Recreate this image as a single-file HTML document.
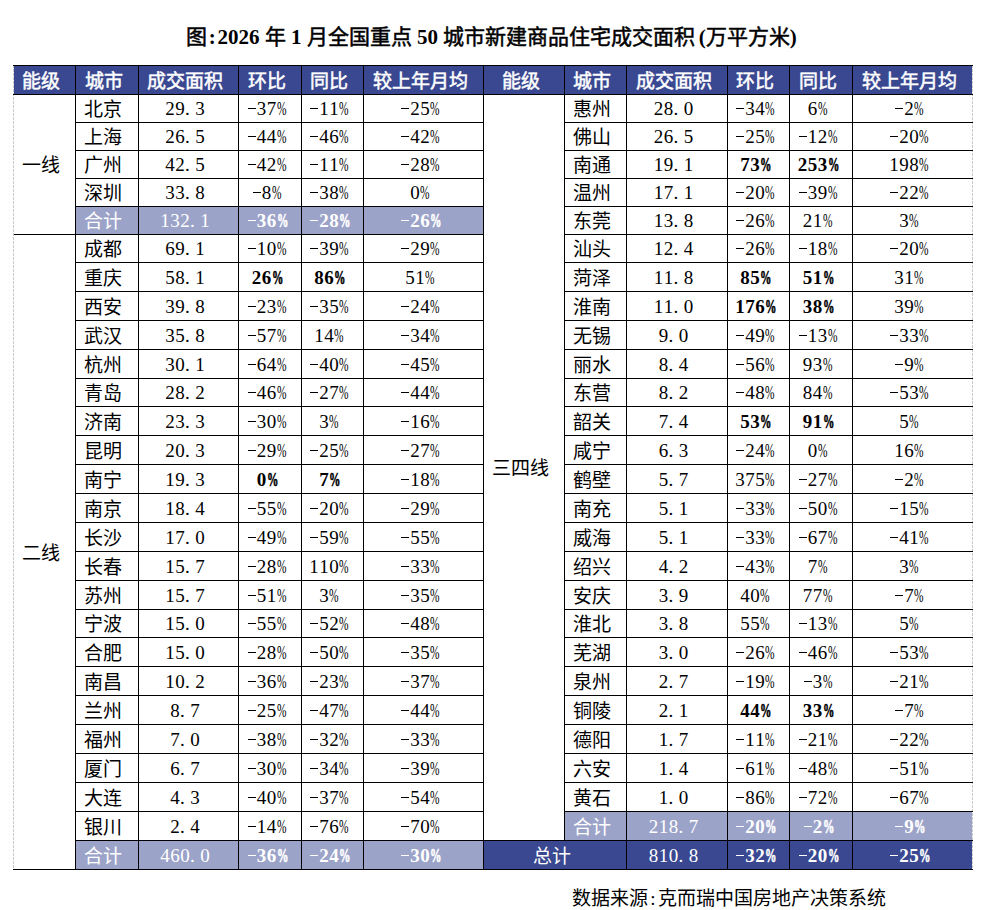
<!DOCTYPE html>
<html lang="zh-CN"><head><meta charset="utf-8">
<style>
html,body{margin:0;padding:0;background:#fff;}
body{width:999px;height:910px;position:relative;overflow:hidden;font-family:"Liberation Serif",serif;color:#000;}
body>div{position:absolute;}
.t{white-space:nowrap;text-align:center;}
.t.l{text-align:left;text-indent:9px;}
.hd{color:#fff;font-weight:normal;font-size:19px;-webkit-text-stroke:0.5px #fff;}
.cn{font-size:19px;}
.nm{font-size:19px;}
.w{color:#fff;}
.b{font-weight:bold;}
.c{display:inline-block;width:10px;text-align:center;}
.c.dl{text-align:left;}
.pc{display:inline-block;width:10px;transform:scaleX(.6);transform-origin:0 0;}
.b .pc{-webkit-text-stroke:0.6px currentColor;}
.mi{display:inline-block;width:10px;height:10px;position:relative;}
.mi:after{content:"";position:absolute;left:1px;width:8px;top:3px;height:1px;background:currentColor;}

.dash{width:1px;background:repeating-linear-gradient(to bottom,#cacaca 0,#cacaca 3px,transparent 3px,transparent 4px);}
.title{left:186px;top:22px;white-space:nowrap;font-size:21px;font-weight:normal;line-height:30px;-webkit-text-stroke:0.5px #000;}
.title .h{font-weight:bold;-webkit-text-stroke:0;}
.title .h{display:inline-block;width:10.5px;text-align:center;font-weight:bold;-webkit-text-stroke:0;}
.foot{left:572px;top:884px;font-size:19px;line-height:30px;white-space:nowrap;}
.foot .h{display:inline-block;width:10px;text-align:center;}
</style></head><body>
<div class="title">图<span class="h">:</span><span class="h">2</span><span class="h">0</span><span class="h">2</span><span class="h">6</span> 年 <span class="h">1</span> 月全国重点 <span class="h">5</span><span class="h">0</span> 城市新建商品住宅成交面积<span class="h" style="text-align:right">(</span>万平方米<span class="h" style="text-align:left">)</span></div>
<div style="left:14px;top:65px;width:958px;height:29px;background:#3a4891;"></div>
<div style="left:75px;top:206px;width:408px;height:28px;background:#9ca3c9;"></div>
<div style="left:75px;top:840px;width:408px;height:29px;background:#9ca3c9;"></div>
<div style="left:564px;top:811px;width:408px;height:29px;background:#9ca3c9;"></div>
<div style="left:483px;top:840px;width:489px;height:29px;background:#3a4891;"></div>
<div class="dash" style="left:13px;top:65px;height:804px"></div>
<div class="dash" style="left:972px;top:65px;height:804px"></div>
<div style="left:13px;top:65px;width:960px;height:1px;background:#000;"></div>
<div style="left:13px;top:94px;width:960px;height:1px;background:#000;"></div>
<div style="left:75px;top:122px;width:409px;height:1px;background:#000;"></div>
<div style="left:75px;top:150px;width:409px;height:1px;background:#000;"></div>
<div style="left:75px;top:178px;width:409px;height:1px;background:#000;"></div>
<div style="left:75px;top:206px;width:409px;height:1px;background:#000;"></div>
<div style="left:75px;top:234px;width:409px;height:1px;background:#000;"></div>
<div style="left:75px;top:262px;width:409px;height:1px;background:#000;"></div>
<div style="left:75px;top:291px;width:409px;height:1px;background:#000;"></div>
<div style="left:75px;top:320px;width:409px;height:1px;background:#000;"></div>
<div style="left:75px;top:349px;width:409px;height:1px;background:#000;"></div>
<div style="left:75px;top:378px;width:409px;height:1px;background:#000;"></div>
<div style="left:75px;top:406px;width:409px;height:1px;background:#000;"></div>
<div style="left:75px;top:435px;width:409px;height:1px;background:#000;"></div>
<div style="left:75px;top:464px;width:409px;height:1px;background:#000;"></div>
<div style="left:75px;top:493px;width:409px;height:1px;background:#000;"></div>
<div style="left:75px;top:522px;width:409px;height:1px;background:#000;"></div>
<div style="left:75px;top:551px;width:409px;height:1px;background:#000;"></div>
<div style="left:75px;top:580px;width:409px;height:1px;background:#000;"></div>
<div style="left:75px;top:609px;width:409px;height:1px;background:#000;"></div>
<div style="left:75px;top:637px;width:409px;height:1px;background:#000;"></div>
<div style="left:75px;top:666px;width:409px;height:1px;background:#000;"></div>
<div style="left:75px;top:695px;width:409px;height:1px;background:#000;"></div>
<div style="left:75px;top:724px;width:409px;height:1px;background:#000;"></div>
<div style="left:75px;top:753px;width:409px;height:1px;background:#000;"></div>
<div style="left:75px;top:782px;width:409px;height:1px;background:#000;"></div>
<div style="left:75px;top:811px;width:409px;height:1px;background:#000;"></div>
<div style="left:75px;top:840px;width:409px;height:1px;background:#000;"></div>
<div style="left:14px;top:234px;width:62px;height:1px;background:#000;"></div>
<div style="left:564px;top:122px;width:409px;height:1px;background:#000;"></div>
<div style="left:564px;top:150px;width:409px;height:1px;background:#000;"></div>
<div style="left:564px;top:178px;width:409px;height:1px;background:#000;"></div>
<div style="left:564px;top:206px;width:409px;height:1px;background:#000;"></div>
<div style="left:564px;top:234px;width:409px;height:1px;background:#000;"></div>
<div style="left:564px;top:262px;width:409px;height:1px;background:#000;"></div>
<div style="left:564px;top:291px;width:409px;height:1px;background:#000;"></div>
<div style="left:564px;top:320px;width:409px;height:1px;background:#000;"></div>
<div style="left:564px;top:349px;width:409px;height:1px;background:#000;"></div>
<div style="left:564px;top:378px;width:409px;height:1px;background:#000;"></div>
<div style="left:564px;top:406px;width:409px;height:1px;background:#000;"></div>
<div style="left:564px;top:435px;width:409px;height:1px;background:#000;"></div>
<div style="left:564px;top:464px;width:409px;height:1px;background:#000;"></div>
<div style="left:564px;top:493px;width:409px;height:1px;background:#000;"></div>
<div style="left:564px;top:522px;width:409px;height:1px;background:#000;"></div>
<div style="left:564px;top:551px;width:409px;height:1px;background:#000;"></div>
<div style="left:564px;top:580px;width:409px;height:1px;background:#000;"></div>
<div style="left:564px;top:609px;width:409px;height:1px;background:#000;"></div>
<div style="left:564px;top:637px;width:409px;height:1px;background:#000;"></div>
<div style="left:564px;top:666px;width:409px;height:1px;background:#000;"></div>
<div style="left:564px;top:695px;width:409px;height:1px;background:#000;"></div>
<div style="left:564px;top:724px;width:409px;height:1px;background:#000;"></div>
<div style="left:564px;top:753px;width:409px;height:1px;background:#000;"></div>
<div style="left:564px;top:782px;width:409px;height:1px;background:#000;"></div>
<div style="left:564px;top:811px;width:409px;height:1px;background:#000;"></div>
<div style="left:483px;top:840px;width:490px;height:1px;background:#000;"></div>
<div style="left:13px;top:869px;width:960px;height:1px;background:#000;"></div>
<div style="left:75px;top:65px;width:1px;height:805px;background:#000;"></div>
<div style="left:138px;top:65px;width:1px;height:805px;background:#000;"></div>
<div style="left:238px;top:65px;width:1px;height:805px;background:#000;"></div>
<div style="left:301px;top:65px;width:1px;height:805px;background:#000;"></div>
<div style="left:363px;top:65px;width:1px;height:805px;background:#000;"></div>
<div style="left:483px;top:65px;width:1px;height:805px;background:#000;"></div>
<div style="left:626px;top:65px;width:1px;height:805px;background:#000;"></div>
<div style="left:727px;top:65px;width:1px;height:805px;background:#000;"></div>
<div style="left:789px;top:65px;width:1px;height:805px;background:#000;"></div>
<div style="left:852px;top:65px;width:1px;height:805px;background:#000;"></div>
<div style="left:564px;top:65px;width:1px;height:776px;background:#000;"></div>
<div class="t hd c" style="left:10px;top:67px;width:62px;height:29px;line-height:29px">能级</div>
<div class="t hd c" style="left:72px;top:67px;width:63px;height:29px;line-height:29px">城市</div>
<div class="t hd c" style="left:135px;top:67px;width:100px;height:29px;line-height:29px">成交面积</div>
<div class="t hd c" style="left:235px;top:67px;width:63px;height:29px;line-height:29px">环比</div>
<div class="t hd c" style="left:298px;top:67px;width:62px;height:29px;line-height:29px">同比</div>
<div class="t hd c" style="left:360px;top:67px;width:120px;height:29px;line-height:29px">较上年月均</div>
<div class="t hd c" style="left:480px;top:67px;width:81px;height:29px;line-height:29px">能级</div>
<div class="t hd c" style="left:561px;top:67px;width:62px;height:29px;line-height:29px">城市</div>
<div class="t hd c" style="left:623px;top:67px;width:101px;height:29px;line-height:29px">成交面积</div>
<div class="t hd c" style="left:724px;top:67px;width:62px;height:29px;line-height:29px">环比</div>
<div class="t hd c" style="left:786px;top:67px;width:63px;height:29px;line-height:29px">同比</div>
<div class="t hd c" style="left:849px;top:67px;width:120px;height:29px;line-height:29px">较上年月均</div>
<div class="t cn c" style="left:10px;top:96px;width:62px;height:140px;line-height:140px">一线</div>
<div class="t cn c" style="left:10px;top:236px;width:62px;height:635px;line-height:635px">二线</div>
<div class="t cn c" style="left:480px;top:96px;width:81px;height:746px;line-height:746px">三四线</div>
<div class="t cn  l" style="left:75px;top:96px;width:63px;height:28px;line-height:28px">北京</div>
<div class="t nm  c" style="left:135px;top:95px;width:100px;height:28px;line-height:28px"><span class="c">2</span><span class="c">9</span><span class="c dl">.</span><span class="c">3</span></div>
<div class="t nm  c" style="left:235px;top:95px;width:63px;height:28px;line-height:28px"><span class="mi"></span><span class="c">3</span><span class="c">7</span><span class="pc">%</span></div>
<div class="t nm  c" style="left:298px;top:95px;width:62px;height:28px;line-height:28px"><span class="mi"></span><span class="c">1</span><span class="c">1</span><span class="pc">%</span></div>
<div class="t nm  c" style="left:360px;top:95px;width:120px;height:28px;line-height:28px"><span class="mi"></span><span class="c">2</span><span class="c">5</span><span class="pc">%</span></div>
<div class="t cn  l" style="left:75px;top:124px;width:63px;height:28px;line-height:28px">上海</div>
<div class="t nm  c" style="left:135px;top:123px;width:100px;height:28px;line-height:28px"><span class="c">2</span><span class="c">6</span><span class="c dl">.</span><span class="c">5</span></div>
<div class="t nm  c" style="left:235px;top:123px;width:63px;height:28px;line-height:28px"><span class="mi"></span><span class="c">4</span><span class="c">4</span><span class="pc">%</span></div>
<div class="t nm  c" style="left:298px;top:123px;width:62px;height:28px;line-height:28px"><span class="mi"></span><span class="c">4</span><span class="c">6</span><span class="pc">%</span></div>
<div class="t nm  c" style="left:360px;top:123px;width:120px;height:28px;line-height:28px"><span class="mi"></span><span class="c">4</span><span class="c">2</span><span class="pc">%</span></div>
<div class="t cn  l" style="left:75px;top:152px;width:63px;height:28px;line-height:28px">广州</div>
<div class="t nm  c" style="left:135px;top:151px;width:100px;height:28px;line-height:28px"><span class="c">4</span><span class="c">2</span><span class="c dl">.</span><span class="c">5</span></div>
<div class="t nm  c" style="left:235px;top:151px;width:63px;height:28px;line-height:28px"><span class="mi"></span><span class="c">4</span><span class="c">2</span><span class="pc">%</span></div>
<div class="t nm  c" style="left:298px;top:151px;width:62px;height:28px;line-height:28px"><span class="mi"></span><span class="c">1</span><span class="c">1</span><span class="pc">%</span></div>
<div class="t nm  c" style="left:360px;top:151px;width:120px;height:28px;line-height:28px"><span class="mi"></span><span class="c">2</span><span class="c">8</span><span class="pc">%</span></div>
<div class="t cn  l" style="left:75px;top:180px;width:63px;height:28px;line-height:28px">深圳</div>
<div class="t nm  c" style="left:135px;top:179px;width:100px;height:28px;line-height:28px"><span class="c">3</span><span class="c">3</span><span class="c dl">.</span><span class="c">8</span></div>
<div class="t nm  c" style="left:235px;top:179px;width:63px;height:28px;line-height:28px"><span class="mi"></span><span class="c">8</span><span class="pc">%</span></div>
<div class="t nm  c" style="left:298px;top:179px;width:62px;height:28px;line-height:28px"><span class="mi"></span><span class="c">3</span><span class="c">8</span><span class="pc">%</span></div>
<div class="t nm  c" style="left:360px;top:179px;width:120px;height:28px;line-height:28px"><span class="c">0</span><span class="pc">%</span></div>
<div class="t cn w l" style="left:75px;top:208px;width:63px;height:28px;line-height:28px">合计</div>
<div class="t nm w c" style="left:135px;top:207px;width:100px;height:28px;line-height:28px"><span class="c">1</span><span class="c">3</span><span class="c">2</span><span class="c dl">.</span><span class="c">1</span></div>
<div class="t nm w b c" style="left:235px;top:207px;width:63px;height:28px;line-height:28px"><span class="mi"></span><span class="c">3</span><span class="c">6</span><span class="pc">%</span></div>
<div class="t nm w b c" style="left:298px;top:207px;width:62px;height:28px;line-height:28px"><span class="mi"></span><span class="c">2</span><span class="c">8</span><span class="pc">%</span></div>
<div class="t nm w b c" style="left:360px;top:207px;width:120px;height:28px;line-height:28px"><span class="mi"></span><span class="c">2</span><span class="c">6</span><span class="pc">%</span></div>
<div class="t cn  l" style="left:75px;top:236px;width:63px;height:28px;line-height:28px">成都</div>
<div class="t nm  c" style="left:135px;top:235px;width:100px;height:28px;line-height:28px"><span class="c">6</span><span class="c">9</span><span class="c dl">.</span><span class="c">1</span></div>
<div class="t nm  c" style="left:235px;top:235px;width:63px;height:28px;line-height:28px"><span class="mi"></span><span class="c">1</span><span class="c">0</span><span class="pc">%</span></div>
<div class="t nm  c" style="left:298px;top:235px;width:62px;height:28px;line-height:28px"><span class="mi"></span><span class="c">3</span><span class="c">9</span><span class="pc">%</span></div>
<div class="t nm  c" style="left:360px;top:235px;width:120px;height:28px;line-height:28px"><span class="mi"></span><span class="c">2</span><span class="c">9</span><span class="pc">%</span></div>
<div class="t cn  l" style="left:75px;top:264px;width:63px;height:29px;line-height:29px">重庆</div>
<div class="t nm  c" style="left:135px;top:263px;width:100px;height:29px;line-height:29px"><span class="c">5</span><span class="c">8</span><span class="c dl">.</span><span class="c">1</span></div>
<div class="t nm  b c" style="left:235px;top:263px;width:63px;height:29px;line-height:29px"><span class="c">2</span><span class="c">6</span><span class="pc">%</span></div>
<div class="t nm  b c" style="left:298px;top:263px;width:62px;height:29px;line-height:29px"><span class="c">8</span><span class="c">6</span><span class="pc">%</span></div>
<div class="t nm  c" style="left:360px;top:263px;width:120px;height:29px;line-height:29px"><span class="c">5</span><span class="c">1</span><span class="pc">%</span></div>
<div class="t cn  l" style="left:75px;top:293px;width:63px;height:29px;line-height:29px">西安</div>
<div class="t nm  c" style="left:135px;top:292px;width:100px;height:29px;line-height:29px"><span class="c">3</span><span class="c">9</span><span class="c dl">.</span><span class="c">8</span></div>
<div class="t nm  c" style="left:235px;top:292px;width:63px;height:29px;line-height:29px"><span class="mi"></span><span class="c">2</span><span class="c">3</span><span class="pc">%</span></div>
<div class="t nm  c" style="left:298px;top:292px;width:62px;height:29px;line-height:29px"><span class="mi"></span><span class="c">3</span><span class="c">5</span><span class="pc">%</span></div>
<div class="t nm  c" style="left:360px;top:292px;width:120px;height:29px;line-height:29px"><span class="mi"></span><span class="c">2</span><span class="c">4</span><span class="pc">%</span></div>
<div class="t cn  l" style="left:75px;top:322px;width:63px;height:29px;line-height:29px">武汉</div>
<div class="t nm  c" style="left:135px;top:321px;width:100px;height:29px;line-height:29px"><span class="c">3</span><span class="c">5</span><span class="c dl">.</span><span class="c">8</span></div>
<div class="t nm  c" style="left:235px;top:321px;width:63px;height:29px;line-height:29px"><span class="mi"></span><span class="c">5</span><span class="c">7</span><span class="pc">%</span></div>
<div class="t nm  c" style="left:298px;top:321px;width:62px;height:29px;line-height:29px"><span class="c">1</span><span class="c">4</span><span class="pc">%</span></div>
<div class="t nm  c" style="left:360px;top:321px;width:120px;height:29px;line-height:29px"><span class="mi"></span><span class="c">3</span><span class="c">4</span><span class="pc">%</span></div>
<div class="t cn  l" style="left:75px;top:351px;width:63px;height:29px;line-height:29px">杭州</div>
<div class="t nm  c" style="left:135px;top:350px;width:100px;height:29px;line-height:29px"><span class="c">3</span><span class="c">0</span><span class="c dl">.</span><span class="c">1</span></div>
<div class="t nm  c" style="left:235px;top:350px;width:63px;height:29px;line-height:29px"><span class="mi"></span><span class="c">6</span><span class="c">4</span><span class="pc">%</span></div>
<div class="t nm  c" style="left:298px;top:350px;width:62px;height:29px;line-height:29px"><span class="mi"></span><span class="c">4</span><span class="c">0</span><span class="pc">%</span></div>
<div class="t nm  c" style="left:360px;top:350px;width:120px;height:29px;line-height:29px"><span class="mi"></span><span class="c">4</span><span class="c">5</span><span class="pc">%</span></div>
<div class="t cn  l" style="left:75px;top:380px;width:63px;height:28px;line-height:28px">青岛</div>
<div class="t nm  c" style="left:135px;top:379px;width:100px;height:28px;line-height:28px"><span class="c">2</span><span class="c">8</span><span class="c dl">.</span><span class="c">2</span></div>
<div class="t nm  c" style="left:235px;top:379px;width:63px;height:28px;line-height:28px"><span class="mi"></span><span class="c">4</span><span class="c">6</span><span class="pc">%</span></div>
<div class="t nm  c" style="left:298px;top:379px;width:62px;height:28px;line-height:28px"><span class="mi"></span><span class="c">2</span><span class="c">7</span><span class="pc">%</span></div>
<div class="t nm  c" style="left:360px;top:379px;width:120px;height:28px;line-height:28px"><span class="mi"></span><span class="c">4</span><span class="c">4</span><span class="pc">%</span></div>
<div class="t cn  l" style="left:75px;top:408px;width:63px;height:29px;line-height:29px">济南</div>
<div class="t nm  c" style="left:135px;top:407px;width:100px;height:29px;line-height:29px"><span class="c">2</span><span class="c">3</span><span class="c dl">.</span><span class="c">3</span></div>
<div class="t nm  c" style="left:235px;top:407px;width:63px;height:29px;line-height:29px"><span class="mi"></span><span class="c">3</span><span class="c">0</span><span class="pc">%</span></div>
<div class="t nm  c" style="left:298px;top:407px;width:62px;height:29px;line-height:29px"><span class="c">3</span><span class="pc">%</span></div>
<div class="t nm  c" style="left:360px;top:407px;width:120px;height:29px;line-height:29px"><span class="mi"></span><span class="c">1</span><span class="c">6</span><span class="pc">%</span></div>
<div class="t cn  l" style="left:75px;top:437px;width:63px;height:29px;line-height:29px">昆明</div>
<div class="t nm  c" style="left:135px;top:436px;width:100px;height:29px;line-height:29px"><span class="c">2</span><span class="c">0</span><span class="c dl">.</span><span class="c">3</span></div>
<div class="t nm  c" style="left:235px;top:436px;width:63px;height:29px;line-height:29px"><span class="mi"></span><span class="c">2</span><span class="c">9</span><span class="pc">%</span></div>
<div class="t nm  c" style="left:298px;top:436px;width:62px;height:29px;line-height:29px"><span class="mi"></span><span class="c">2</span><span class="c">5</span><span class="pc">%</span></div>
<div class="t nm  c" style="left:360px;top:436px;width:120px;height:29px;line-height:29px"><span class="mi"></span><span class="c">2</span><span class="c">7</span><span class="pc">%</span></div>
<div class="t cn  l" style="left:75px;top:466px;width:63px;height:29px;line-height:29px">南宁</div>
<div class="t nm  c" style="left:135px;top:465px;width:100px;height:29px;line-height:29px"><span class="c">1</span><span class="c">9</span><span class="c dl">.</span><span class="c">3</span></div>
<div class="t nm  b c" style="left:235px;top:465px;width:63px;height:29px;line-height:29px"><span class="c">0</span><span class="pc">%</span></div>
<div class="t nm  b c" style="left:298px;top:465px;width:62px;height:29px;line-height:29px"><span class="c">7</span><span class="pc">%</span></div>
<div class="t nm  c" style="left:360px;top:465px;width:120px;height:29px;line-height:29px"><span class="mi"></span><span class="c">1</span><span class="c">8</span><span class="pc">%</span></div>
<div class="t cn  l" style="left:75px;top:495px;width:63px;height:29px;line-height:29px">南京</div>
<div class="t nm  c" style="left:135px;top:494px;width:100px;height:29px;line-height:29px"><span class="c">1</span><span class="c">8</span><span class="c dl">.</span><span class="c">4</span></div>
<div class="t nm  c" style="left:235px;top:494px;width:63px;height:29px;line-height:29px"><span class="mi"></span><span class="c">5</span><span class="c">5</span><span class="pc">%</span></div>
<div class="t nm  c" style="left:298px;top:494px;width:62px;height:29px;line-height:29px"><span class="mi"></span><span class="c">2</span><span class="c">0</span><span class="pc">%</span></div>
<div class="t nm  c" style="left:360px;top:494px;width:120px;height:29px;line-height:29px"><span class="mi"></span><span class="c">2</span><span class="c">9</span><span class="pc">%</span></div>
<div class="t cn  l" style="left:75px;top:524px;width:63px;height:29px;line-height:29px">长沙</div>
<div class="t nm  c" style="left:135px;top:523px;width:100px;height:29px;line-height:29px"><span class="c">1</span><span class="c">7</span><span class="c dl">.</span><span class="c">0</span></div>
<div class="t nm  c" style="left:235px;top:523px;width:63px;height:29px;line-height:29px"><span class="mi"></span><span class="c">4</span><span class="c">9</span><span class="pc">%</span></div>
<div class="t nm  c" style="left:298px;top:523px;width:62px;height:29px;line-height:29px"><span class="mi"></span><span class="c">5</span><span class="c">9</span><span class="pc">%</span></div>
<div class="t nm  c" style="left:360px;top:523px;width:120px;height:29px;line-height:29px"><span class="mi"></span><span class="c">5</span><span class="c">5</span><span class="pc">%</span></div>
<div class="t cn  l" style="left:75px;top:553px;width:63px;height:29px;line-height:29px">长春</div>
<div class="t nm  c" style="left:135px;top:552px;width:100px;height:29px;line-height:29px"><span class="c">1</span><span class="c">5</span><span class="c dl">.</span><span class="c">7</span></div>
<div class="t nm  c" style="left:235px;top:552px;width:63px;height:29px;line-height:29px"><span class="mi"></span><span class="c">2</span><span class="c">8</span><span class="pc">%</span></div>
<div class="t nm  c" style="left:298px;top:552px;width:62px;height:29px;line-height:29px"><span class="c">1</span><span class="c">1</span><span class="c">0</span><span class="pc">%</span></div>
<div class="t nm  c" style="left:360px;top:552px;width:120px;height:29px;line-height:29px"><span class="mi"></span><span class="c">3</span><span class="c">3</span><span class="pc">%</span></div>
<div class="t cn  l" style="left:75px;top:582px;width:63px;height:29px;line-height:29px">苏州</div>
<div class="t nm  c" style="left:135px;top:581px;width:100px;height:29px;line-height:29px"><span class="c">1</span><span class="c">5</span><span class="c dl">.</span><span class="c">7</span></div>
<div class="t nm  c" style="left:235px;top:581px;width:63px;height:29px;line-height:29px"><span class="mi"></span><span class="c">5</span><span class="c">1</span><span class="pc">%</span></div>
<div class="t nm  c" style="left:298px;top:581px;width:62px;height:29px;line-height:29px"><span class="c">3</span><span class="pc">%</span></div>
<div class="t nm  c" style="left:360px;top:581px;width:120px;height:29px;line-height:29px"><span class="mi"></span><span class="c">3</span><span class="c">5</span><span class="pc">%</span></div>
<div class="t cn  l" style="left:75px;top:611px;width:63px;height:28px;line-height:28px">宁波</div>
<div class="t nm  c" style="left:135px;top:610px;width:100px;height:28px;line-height:28px"><span class="c">1</span><span class="c">5</span><span class="c dl">.</span><span class="c">0</span></div>
<div class="t nm  c" style="left:235px;top:610px;width:63px;height:28px;line-height:28px"><span class="mi"></span><span class="c">5</span><span class="c">5</span><span class="pc">%</span></div>
<div class="t nm  c" style="left:298px;top:610px;width:62px;height:28px;line-height:28px"><span class="mi"></span><span class="c">5</span><span class="c">2</span><span class="pc">%</span></div>
<div class="t nm  c" style="left:360px;top:610px;width:120px;height:28px;line-height:28px"><span class="mi"></span><span class="c">4</span><span class="c">8</span><span class="pc">%</span></div>
<div class="t cn  l" style="left:75px;top:639px;width:63px;height:29px;line-height:29px">合肥</div>
<div class="t nm  c" style="left:135px;top:638px;width:100px;height:29px;line-height:29px"><span class="c">1</span><span class="c">5</span><span class="c dl">.</span><span class="c">0</span></div>
<div class="t nm  c" style="left:235px;top:638px;width:63px;height:29px;line-height:29px"><span class="mi"></span><span class="c">2</span><span class="c">8</span><span class="pc">%</span></div>
<div class="t nm  c" style="left:298px;top:638px;width:62px;height:29px;line-height:29px"><span class="mi"></span><span class="c">5</span><span class="c">0</span><span class="pc">%</span></div>
<div class="t nm  c" style="left:360px;top:638px;width:120px;height:29px;line-height:29px"><span class="mi"></span><span class="c">3</span><span class="c">5</span><span class="pc">%</span></div>
<div class="t cn  l" style="left:75px;top:668px;width:63px;height:29px;line-height:29px">南昌</div>
<div class="t nm  c" style="left:135px;top:667px;width:100px;height:29px;line-height:29px"><span class="c">1</span><span class="c">0</span><span class="c dl">.</span><span class="c">2</span></div>
<div class="t nm  c" style="left:235px;top:667px;width:63px;height:29px;line-height:29px"><span class="mi"></span><span class="c">3</span><span class="c">6</span><span class="pc">%</span></div>
<div class="t nm  c" style="left:298px;top:667px;width:62px;height:29px;line-height:29px"><span class="mi"></span><span class="c">2</span><span class="c">3</span><span class="pc">%</span></div>
<div class="t nm  c" style="left:360px;top:667px;width:120px;height:29px;line-height:29px"><span class="mi"></span><span class="c">3</span><span class="c">7</span><span class="pc">%</span></div>
<div class="t cn  l" style="left:75px;top:697px;width:63px;height:29px;line-height:29px">兰州</div>
<div class="t nm  c" style="left:135px;top:696px;width:100px;height:29px;line-height:29px"><span class="c">8</span><span class="c dl">.</span><span class="c">7</span></div>
<div class="t nm  c" style="left:235px;top:696px;width:63px;height:29px;line-height:29px"><span class="mi"></span><span class="c">2</span><span class="c">5</span><span class="pc">%</span></div>
<div class="t nm  c" style="left:298px;top:696px;width:62px;height:29px;line-height:29px"><span class="mi"></span><span class="c">4</span><span class="c">7</span><span class="pc">%</span></div>
<div class="t nm  c" style="left:360px;top:696px;width:120px;height:29px;line-height:29px"><span class="mi"></span><span class="c">4</span><span class="c">4</span><span class="pc">%</span></div>
<div class="t cn  l" style="left:75px;top:726px;width:63px;height:29px;line-height:29px">福州</div>
<div class="t nm  c" style="left:135px;top:725px;width:100px;height:29px;line-height:29px"><span class="c">7</span><span class="c dl">.</span><span class="c">0</span></div>
<div class="t nm  c" style="left:235px;top:725px;width:63px;height:29px;line-height:29px"><span class="mi"></span><span class="c">3</span><span class="c">8</span><span class="pc">%</span></div>
<div class="t nm  c" style="left:298px;top:725px;width:62px;height:29px;line-height:29px"><span class="mi"></span><span class="c">3</span><span class="c">2</span><span class="pc">%</span></div>
<div class="t nm  c" style="left:360px;top:725px;width:120px;height:29px;line-height:29px"><span class="mi"></span><span class="c">3</span><span class="c">3</span><span class="pc">%</span></div>
<div class="t cn  l" style="left:75px;top:755px;width:63px;height:29px;line-height:29px">厦门</div>
<div class="t nm  c" style="left:135px;top:754px;width:100px;height:29px;line-height:29px"><span class="c">6</span><span class="c dl">.</span><span class="c">7</span></div>
<div class="t nm  c" style="left:235px;top:754px;width:63px;height:29px;line-height:29px"><span class="mi"></span><span class="c">3</span><span class="c">0</span><span class="pc">%</span></div>
<div class="t nm  c" style="left:298px;top:754px;width:62px;height:29px;line-height:29px"><span class="mi"></span><span class="c">3</span><span class="c">4</span><span class="pc">%</span></div>
<div class="t nm  c" style="left:360px;top:754px;width:120px;height:29px;line-height:29px"><span class="mi"></span><span class="c">3</span><span class="c">9</span><span class="pc">%</span></div>
<div class="t cn  l" style="left:75px;top:784px;width:63px;height:29px;line-height:29px">大连</div>
<div class="t nm  c" style="left:135px;top:783px;width:100px;height:29px;line-height:29px"><span class="c">4</span><span class="c dl">.</span><span class="c">3</span></div>
<div class="t nm  c" style="left:235px;top:783px;width:63px;height:29px;line-height:29px"><span class="mi"></span><span class="c">4</span><span class="c">0</span><span class="pc">%</span></div>
<div class="t nm  c" style="left:298px;top:783px;width:62px;height:29px;line-height:29px"><span class="mi"></span><span class="c">3</span><span class="c">7</span><span class="pc">%</span></div>
<div class="t nm  c" style="left:360px;top:783px;width:120px;height:29px;line-height:29px"><span class="mi"></span><span class="c">5</span><span class="c">4</span><span class="pc">%</span></div>
<div class="t cn  l" style="left:75px;top:813px;width:63px;height:29px;line-height:29px">银川</div>
<div class="t nm  c" style="left:135px;top:812px;width:100px;height:29px;line-height:29px"><span class="c">2</span><span class="c dl">.</span><span class="c">4</span></div>
<div class="t nm  c" style="left:235px;top:812px;width:63px;height:29px;line-height:29px"><span class="mi"></span><span class="c">1</span><span class="c">4</span><span class="pc">%</span></div>
<div class="t nm  c" style="left:298px;top:812px;width:62px;height:29px;line-height:29px"><span class="mi"></span><span class="c">7</span><span class="c">6</span><span class="pc">%</span></div>
<div class="t nm  c" style="left:360px;top:812px;width:120px;height:29px;line-height:29px"><span class="mi"></span><span class="c">7</span><span class="c">0</span><span class="pc">%</span></div>
<div class="t cn w l" style="left:75px;top:842px;width:63px;height:29px;line-height:29px">合计</div>
<div class="t nm w c" style="left:135px;top:841px;width:100px;height:29px;line-height:29px"><span class="c">4</span><span class="c">6</span><span class="c">0</span><span class="c dl">.</span><span class="c">0</span></div>
<div class="t nm w b c" style="left:235px;top:841px;width:63px;height:29px;line-height:29px"><span class="mi"></span><span class="c">3</span><span class="c">6</span><span class="pc">%</span></div>
<div class="t nm w b c" style="left:298px;top:841px;width:62px;height:29px;line-height:29px"><span class="mi"></span><span class="c">2</span><span class="c">4</span><span class="pc">%</span></div>
<div class="t nm w b c" style="left:360px;top:841px;width:120px;height:29px;line-height:29px"><span class="mi"></span><span class="c">3</span><span class="c">0</span><span class="pc">%</span></div>
<div class="t cn  l" style="left:564px;top:96px;width:62px;height:28px;line-height:28px">惠州</div>
<div class="t nm  c" style="left:623px;top:95px;width:101px;height:28px;line-height:28px"><span class="c">2</span><span class="c">8</span><span class="c dl">.</span><span class="c">0</span></div>
<div class="t nm  c" style="left:724px;top:95px;width:62px;height:28px;line-height:28px"><span class="mi"></span><span class="c">3</span><span class="c">4</span><span class="pc">%</span></div>
<div class="t nm  c" style="left:786px;top:95px;width:63px;height:28px;line-height:28px"><span class="c">6</span><span class="pc">%</span></div>
<div class="t nm  c" style="left:849px;top:95px;width:120px;height:28px;line-height:28px"><span class="mi"></span><span class="c">2</span><span class="pc">%</span></div>
<div class="t cn  l" style="left:564px;top:124px;width:62px;height:28px;line-height:28px">佛山</div>
<div class="t nm  c" style="left:623px;top:123px;width:101px;height:28px;line-height:28px"><span class="c">2</span><span class="c">6</span><span class="c dl">.</span><span class="c">5</span></div>
<div class="t nm  c" style="left:724px;top:123px;width:62px;height:28px;line-height:28px"><span class="mi"></span><span class="c">2</span><span class="c">5</span><span class="pc">%</span></div>
<div class="t nm  c" style="left:786px;top:123px;width:63px;height:28px;line-height:28px"><span class="mi"></span><span class="c">1</span><span class="c">2</span><span class="pc">%</span></div>
<div class="t nm  c" style="left:849px;top:123px;width:120px;height:28px;line-height:28px"><span class="mi"></span><span class="c">2</span><span class="c">0</span><span class="pc">%</span></div>
<div class="t cn  l" style="left:564px;top:152px;width:62px;height:28px;line-height:28px">南通</div>
<div class="t nm  c" style="left:623px;top:151px;width:101px;height:28px;line-height:28px"><span class="c">1</span><span class="c">9</span><span class="c dl">.</span><span class="c">1</span></div>
<div class="t nm  b c" style="left:724px;top:151px;width:62px;height:28px;line-height:28px"><span class="c">7</span><span class="c">3</span><span class="pc">%</span></div>
<div class="t nm  b c" style="left:786px;top:151px;width:63px;height:28px;line-height:28px"><span class="c">2</span><span class="c">5</span><span class="c">3</span><span class="pc">%</span></div>
<div class="t nm  c" style="left:849px;top:151px;width:120px;height:28px;line-height:28px"><span class="c">1</span><span class="c">9</span><span class="c">8</span><span class="pc">%</span></div>
<div class="t cn  l" style="left:564px;top:180px;width:62px;height:28px;line-height:28px">温州</div>
<div class="t nm  c" style="left:623px;top:179px;width:101px;height:28px;line-height:28px"><span class="c">1</span><span class="c">7</span><span class="c dl">.</span><span class="c">1</span></div>
<div class="t nm  c" style="left:724px;top:179px;width:62px;height:28px;line-height:28px"><span class="mi"></span><span class="c">2</span><span class="c">0</span><span class="pc">%</span></div>
<div class="t nm  c" style="left:786px;top:179px;width:63px;height:28px;line-height:28px"><span class="mi"></span><span class="c">3</span><span class="c">9</span><span class="pc">%</span></div>
<div class="t nm  c" style="left:849px;top:179px;width:120px;height:28px;line-height:28px"><span class="mi"></span><span class="c">2</span><span class="c">2</span><span class="pc">%</span></div>
<div class="t cn  l" style="left:564px;top:208px;width:62px;height:28px;line-height:28px">东莞</div>
<div class="t nm  c" style="left:623px;top:207px;width:101px;height:28px;line-height:28px"><span class="c">1</span><span class="c">3</span><span class="c dl">.</span><span class="c">8</span></div>
<div class="t nm  c" style="left:724px;top:207px;width:62px;height:28px;line-height:28px"><span class="mi"></span><span class="c">2</span><span class="c">6</span><span class="pc">%</span></div>
<div class="t nm  c" style="left:786px;top:207px;width:63px;height:28px;line-height:28px"><span class="c">2</span><span class="c">1</span><span class="pc">%</span></div>
<div class="t nm  c" style="left:849px;top:207px;width:120px;height:28px;line-height:28px"><span class="c">3</span><span class="pc">%</span></div>
<div class="t cn  l" style="left:564px;top:236px;width:62px;height:28px;line-height:28px">汕头</div>
<div class="t nm  c" style="left:623px;top:235px;width:101px;height:28px;line-height:28px"><span class="c">1</span><span class="c">2</span><span class="c dl">.</span><span class="c">4</span></div>
<div class="t nm  c" style="left:724px;top:235px;width:62px;height:28px;line-height:28px"><span class="mi"></span><span class="c">2</span><span class="c">6</span><span class="pc">%</span></div>
<div class="t nm  c" style="left:786px;top:235px;width:63px;height:28px;line-height:28px"><span class="mi"></span><span class="c">1</span><span class="c">8</span><span class="pc">%</span></div>
<div class="t nm  c" style="left:849px;top:235px;width:120px;height:28px;line-height:28px"><span class="mi"></span><span class="c">2</span><span class="c">0</span><span class="pc">%</span></div>
<div class="t cn  l" style="left:564px;top:264px;width:62px;height:29px;line-height:29px">菏泽</div>
<div class="t nm  c" style="left:623px;top:263px;width:101px;height:29px;line-height:29px"><span class="c">1</span><span class="c">1</span><span class="c dl">.</span><span class="c">8</span></div>
<div class="t nm  b c" style="left:724px;top:263px;width:62px;height:29px;line-height:29px"><span class="c">8</span><span class="c">5</span><span class="pc">%</span></div>
<div class="t nm  b c" style="left:786px;top:263px;width:63px;height:29px;line-height:29px"><span class="c">5</span><span class="c">1</span><span class="pc">%</span></div>
<div class="t nm  c" style="left:849px;top:263px;width:120px;height:29px;line-height:29px"><span class="c">3</span><span class="c">1</span><span class="pc">%</span></div>
<div class="t cn  l" style="left:564px;top:293px;width:62px;height:29px;line-height:29px">淮南</div>
<div class="t nm  c" style="left:623px;top:292px;width:101px;height:29px;line-height:29px"><span class="c">1</span><span class="c">1</span><span class="c dl">.</span><span class="c">0</span></div>
<div class="t nm  b c" style="left:724px;top:292px;width:62px;height:29px;line-height:29px"><span class="c">1</span><span class="c">7</span><span class="c">6</span><span class="pc">%</span></div>
<div class="t nm  b c" style="left:786px;top:292px;width:63px;height:29px;line-height:29px"><span class="c">3</span><span class="c">8</span><span class="pc">%</span></div>
<div class="t nm  c" style="left:849px;top:292px;width:120px;height:29px;line-height:29px"><span class="c">3</span><span class="c">9</span><span class="pc">%</span></div>
<div class="t cn  l" style="left:564px;top:322px;width:62px;height:29px;line-height:29px">无锡</div>
<div class="t nm  c" style="left:623px;top:321px;width:101px;height:29px;line-height:29px"><span class="c">9</span><span class="c dl">.</span><span class="c">0</span></div>
<div class="t nm  c" style="left:724px;top:321px;width:62px;height:29px;line-height:29px"><span class="mi"></span><span class="c">4</span><span class="c">9</span><span class="pc">%</span></div>
<div class="t nm  c" style="left:786px;top:321px;width:63px;height:29px;line-height:29px"><span class="mi"></span><span class="c">1</span><span class="c">3</span><span class="pc">%</span></div>
<div class="t nm  c" style="left:849px;top:321px;width:120px;height:29px;line-height:29px"><span class="mi"></span><span class="c">3</span><span class="c">3</span><span class="pc">%</span></div>
<div class="t cn  l" style="left:564px;top:351px;width:62px;height:29px;line-height:29px">丽水</div>
<div class="t nm  c" style="left:623px;top:350px;width:101px;height:29px;line-height:29px"><span class="c">8</span><span class="c dl">.</span><span class="c">4</span></div>
<div class="t nm  c" style="left:724px;top:350px;width:62px;height:29px;line-height:29px"><span class="mi"></span><span class="c">5</span><span class="c">6</span><span class="pc">%</span></div>
<div class="t nm  c" style="left:786px;top:350px;width:63px;height:29px;line-height:29px"><span class="c">9</span><span class="c">3</span><span class="pc">%</span></div>
<div class="t nm  c" style="left:849px;top:350px;width:120px;height:29px;line-height:29px"><span class="mi"></span><span class="c">9</span><span class="pc">%</span></div>
<div class="t cn  l" style="left:564px;top:380px;width:62px;height:28px;line-height:28px">东营</div>
<div class="t nm  c" style="left:623px;top:379px;width:101px;height:28px;line-height:28px"><span class="c">8</span><span class="c dl">.</span><span class="c">2</span></div>
<div class="t nm  c" style="left:724px;top:379px;width:62px;height:28px;line-height:28px"><span class="mi"></span><span class="c">4</span><span class="c">8</span><span class="pc">%</span></div>
<div class="t nm  c" style="left:786px;top:379px;width:63px;height:28px;line-height:28px"><span class="c">8</span><span class="c">4</span><span class="pc">%</span></div>
<div class="t nm  c" style="left:849px;top:379px;width:120px;height:28px;line-height:28px"><span class="mi"></span><span class="c">5</span><span class="c">3</span><span class="pc">%</span></div>
<div class="t cn  l" style="left:564px;top:408px;width:62px;height:29px;line-height:29px">韶关</div>
<div class="t nm  c" style="left:623px;top:407px;width:101px;height:29px;line-height:29px"><span class="c">7</span><span class="c dl">.</span><span class="c">4</span></div>
<div class="t nm  b c" style="left:724px;top:407px;width:62px;height:29px;line-height:29px"><span class="c">5</span><span class="c">3</span><span class="pc">%</span></div>
<div class="t nm  b c" style="left:786px;top:407px;width:63px;height:29px;line-height:29px"><span class="c">9</span><span class="c">1</span><span class="pc">%</span></div>
<div class="t nm  c" style="left:849px;top:407px;width:120px;height:29px;line-height:29px"><span class="c">5</span><span class="pc">%</span></div>
<div class="t cn  l" style="left:564px;top:437px;width:62px;height:29px;line-height:29px">咸宁</div>
<div class="t nm  c" style="left:623px;top:436px;width:101px;height:29px;line-height:29px"><span class="c">6</span><span class="c dl">.</span><span class="c">3</span></div>
<div class="t nm  c" style="left:724px;top:436px;width:62px;height:29px;line-height:29px"><span class="mi"></span><span class="c">2</span><span class="c">4</span><span class="pc">%</span></div>
<div class="t nm  c" style="left:786px;top:436px;width:63px;height:29px;line-height:29px"><span class="c">0</span><span class="pc">%</span></div>
<div class="t nm  c" style="left:849px;top:436px;width:120px;height:29px;line-height:29px"><span class="c">1</span><span class="c">6</span><span class="pc">%</span></div>
<div class="t cn  l" style="left:564px;top:466px;width:62px;height:29px;line-height:29px">鹤壁</div>
<div class="t nm  c" style="left:623px;top:465px;width:101px;height:29px;line-height:29px"><span class="c">5</span><span class="c dl">.</span><span class="c">7</span></div>
<div class="t nm  c" style="left:724px;top:465px;width:62px;height:29px;line-height:29px"><span class="c">3</span><span class="c">7</span><span class="c">5</span><span class="pc">%</span></div>
<div class="t nm  c" style="left:786px;top:465px;width:63px;height:29px;line-height:29px"><span class="mi"></span><span class="c">2</span><span class="c">7</span><span class="pc">%</span></div>
<div class="t nm  c" style="left:849px;top:465px;width:120px;height:29px;line-height:29px"><span class="mi"></span><span class="c">2</span><span class="pc">%</span></div>
<div class="t cn  l" style="left:564px;top:495px;width:62px;height:29px;line-height:29px">南充</div>
<div class="t nm  c" style="left:623px;top:494px;width:101px;height:29px;line-height:29px"><span class="c">5</span><span class="c dl">.</span><span class="c">1</span></div>
<div class="t nm  c" style="left:724px;top:494px;width:62px;height:29px;line-height:29px"><span class="mi"></span><span class="c">3</span><span class="c">3</span><span class="pc">%</span></div>
<div class="t nm  c" style="left:786px;top:494px;width:63px;height:29px;line-height:29px"><span class="mi"></span><span class="c">5</span><span class="c">0</span><span class="pc">%</span></div>
<div class="t nm  c" style="left:849px;top:494px;width:120px;height:29px;line-height:29px"><span class="mi"></span><span class="c">1</span><span class="c">5</span><span class="pc">%</span></div>
<div class="t cn  l" style="left:564px;top:524px;width:62px;height:29px;line-height:29px">威海</div>
<div class="t nm  c" style="left:623px;top:523px;width:101px;height:29px;line-height:29px"><span class="c">5</span><span class="c dl">.</span><span class="c">1</span></div>
<div class="t nm  c" style="left:724px;top:523px;width:62px;height:29px;line-height:29px"><span class="mi"></span><span class="c">3</span><span class="c">3</span><span class="pc">%</span></div>
<div class="t nm  c" style="left:786px;top:523px;width:63px;height:29px;line-height:29px"><span class="mi"></span><span class="c">6</span><span class="c">7</span><span class="pc">%</span></div>
<div class="t nm  c" style="left:849px;top:523px;width:120px;height:29px;line-height:29px"><span class="mi"></span><span class="c">4</span><span class="c">1</span><span class="pc">%</span></div>
<div class="t cn  l" style="left:564px;top:553px;width:62px;height:29px;line-height:29px">绍兴</div>
<div class="t nm  c" style="left:623px;top:552px;width:101px;height:29px;line-height:29px"><span class="c">4</span><span class="c dl">.</span><span class="c">2</span></div>
<div class="t nm  c" style="left:724px;top:552px;width:62px;height:29px;line-height:29px"><span class="mi"></span><span class="c">4</span><span class="c">3</span><span class="pc">%</span></div>
<div class="t nm  c" style="left:786px;top:552px;width:63px;height:29px;line-height:29px"><span class="c">7</span><span class="pc">%</span></div>
<div class="t nm  c" style="left:849px;top:552px;width:120px;height:29px;line-height:29px"><span class="c">3</span><span class="pc">%</span></div>
<div class="t cn  l" style="left:564px;top:582px;width:62px;height:29px;line-height:29px">安庆</div>
<div class="t nm  c" style="left:623px;top:581px;width:101px;height:29px;line-height:29px"><span class="c">3</span><span class="c dl">.</span><span class="c">9</span></div>
<div class="t nm  c" style="left:724px;top:581px;width:62px;height:29px;line-height:29px"><span class="c">4</span><span class="c">0</span><span class="pc">%</span></div>
<div class="t nm  c" style="left:786px;top:581px;width:63px;height:29px;line-height:29px"><span class="c">7</span><span class="c">7</span><span class="pc">%</span></div>
<div class="t nm  c" style="left:849px;top:581px;width:120px;height:29px;line-height:29px"><span class="mi"></span><span class="c">7</span><span class="pc">%</span></div>
<div class="t cn  l" style="left:564px;top:611px;width:62px;height:28px;line-height:28px">淮北</div>
<div class="t nm  c" style="left:623px;top:610px;width:101px;height:28px;line-height:28px"><span class="c">3</span><span class="c dl">.</span><span class="c">8</span></div>
<div class="t nm  c" style="left:724px;top:610px;width:62px;height:28px;line-height:28px"><span class="c">5</span><span class="c">5</span><span class="pc">%</span></div>
<div class="t nm  c" style="left:786px;top:610px;width:63px;height:28px;line-height:28px"><span class="mi"></span><span class="c">1</span><span class="c">3</span><span class="pc">%</span></div>
<div class="t nm  c" style="left:849px;top:610px;width:120px;height:28px;line-height:28px"><span class="c">5</span><span class="pc">%</span></div>
<div class="t cn  l" style="left:564px;top:639px;width:62px;height:29px;line-height:29px">芜湖</div>
<div class="t nm  c" style="left:623px;top:638px;width:101px;height:29px;line-height:29px"><span class="c">3</span><span class="c dl">.</span><span class="c">0</span></div>
<div class="t nm  c" style="left:724px;top:638px;width:62px;height:29px;line-height:29px"><span class="mi"></span><span class="c">2</span><span class="c">6</span><span class="pc">%</span></div>
<div class="t nm  c" style="left:786px;top:638px;width:63px;height:29px;line-height:29px"><span class="mi"></span><span class="c">4</span><span class="c">6</span><span class="pc">%</span></div>
<div class="t nm  c" style="left:849px;top:638px;width:120px;height:29px;line-height:29px"><span class="mi"></span><span class="c">5</span><span class="c">3</span><span class="pc">%</span></div>
<div class="t cn  l" style="left:564px;top:668px;width:62px;height:29px;line-height:29px">泉州</div>
<div class="t nm  c" style="left:623px;top:667px;width:101px;height:29px;line-height:29px"><span class="c">2</span><span class="c dl">.</span><span class="c">7</span></div>
<div class="t nm  c" style="left:724px;top:667px;width:62px;height:29px;line-height:29px"><span class="mi"></span><span class="c">1</span><span class="c">9</span><span class="pc">%</span></div>
<div class="t nm  c" style="left:786px;top:667px;width:63px;height:29px;line-height:29px"><span class="mi"></span><span class="c">3</span><span class="pc">%</span></div>
<div class="t nm  c" style="left:849px;top:667px;width:120px;height:29px;line-height:29px"><span class="mi"></span><span class="c">2</span><span class="c">1</span><span class="pc">%</span></div>
<div class="t cn  l" style="left:564px;top:697px;width:62px;height:29px;line-height:29px">铜陵</div>
<div class="t nm  c" style="left:623px;top:696px;width:101px;height:29px;line-height:29px"><span class="c">2</span><span class="c dl">.</span><span class="c">1</span></div>
<div class="t nm  b c" style="left:724px;top:696px;width:62px;height:29px;line-height:29px"><span class="c">4</span><span class="c">4</span><span class="pc">%</span></div>
<div class="t nm  b c" style="left:786px;top:696px;width:63px;height:29px;line-height:29px"><span class="c">3</span><span class="c">3</span><span class="pc">%</span></div>
<div class="t nm  c" style="left:849px;top:696px;width:120px;height:29px;line-height:29px"><span class="mi"></span><span class="c">7</span><span class="pc">%</span></div>
<div class="t cn  l" style="left:564px;top:726px;width:62px;height:29px;line-height:29px">德阳</div>
<div class="t nm  c" style="left:623px;top:725px;width:101px;height:29px;line-height:29px"><span class="c">1</span><span class="c dl">.</span><span class="c">7</span></div>
<div class="t nm  c" style="left:724px;top:725px;width:62px;height:29px;line-height:29px"><span class="mi"></span><span class="c">1</span><span class="c">1</span><span class="pc">%</span></div>
<div class="t nm  c" style="left:786px;top:725px;width:63px;height:29px;line-height:29px"><span class="mi"></span><span class="c">2</span><span class="c">1</span><span class="pc">%</span></div>
<div class="t nm  c" style="left:849px;top:725px;width:120px;height:29px;line-height:29px"><span class="mi"></span><span class="c">2</span><span class="c">2</span><span class="pc">%</span></div>
<div class="t cn  l" style="left:564px;top:755px;width:62px;height:29px;line-height:29px">六安</div>
<div class="t nm  c" style="left:623px;top:754px;width:101px;height:29px;line-height:29px"><span class="c">1</span><span class="c dl">.</span><span class="c">4</span></div>
<div class="t nm  c" style="left:724px;top:754px;width:62px;height:29px;line-height:29px"><span class="mi"></span><span class="c">6</span><span class="c">1</span><span class="pc">%</span></div>
<div class="t nm  c" style="left:786px;top:754px;width:63px;height:29px;line-height:29px"><span class="mi"></span><span class="c">4</span><span class="c">8</span><span class="pc">%</span></div>
<div class="t nm  c" style="left:849px;top:754px;width:120px;height:29px;line-height:29px"><span class="mi"></span><span class="c">5</span><span class="c">1</span><span class="pc">%</span></div>
<div class="t cn  l" style="left:564px;top:784px;width:62px;height:29px;line-height:29px">黄石</div>
<div class="t nm  c" style="left:623px;top:783px;width:101px;height:29px;line-height:29px"><span class="c">1</span><span class="c dl">.</span><span class="c">0</span></div>
<div class="t nm  c" style="left:724px;top:783px;width:62px;height:29px;line-height:29px"><span class="mi"></span><span class="c">8</span><span class="c">6</span><span class="pc">%</span></div>
<div class="t nm  c" style="left:786px;top:783px;width:63px;height:29px;line-height:29px"><span class="mi"></span><span class="c">7</span><span class="c">2</span><span class="pc">%</span></div>
<div class="t nm  c" style="left:849px;top:783px;width:120px;height:29px;line-height:29px"><span class="mi"></span><span class="c">6</span><span class="c">7</span><span class="pc">%</span></div>
<div class="t cn w l" style="left:564px;top:813px;width:62px;height:29px;line-height:29px">合计</div>
<div class="t nm w c" style="left:623px;top:812px;width:101px;height:29px;line-height:29px"><span class="c">2</span><span class="c">1</span><span class="c">8</span><span class="c dl">.</span><span class="c">7</span></div>
<div class="t nm w b c" style="left:724px;top:812px;width:62px;height:29px;line-height:29px"><span class="mi"></span><span class="c">2</span><span class="c">0</span><span class="pc">%</span></div>
<div class="t nm w b c" style="left:786px;top:812px;width:63px;height:29px;line-height:29px"><span class="mi"></span><span class="c">2</span><span class="pc">%</span></div>
<div class="t nm w b c" style="left:849px;top:812px;width:120px;height:29px;line-height:29px"><span class="mi"></span><span class="c">9</span><span class="pc">%</span></div>
<div class="t cn w c" style="left:480px;top:842px;width:143px;height:29px;line-height:29px">总计</div>
<div class="t nm w c" style="left:623px;top:841px;width:101px;height:29px;line-height:29px"><span class="c">8</span><span class="c">1</span><span class="c">0</span><span class="c dl">.</span><span class="c">8</span></div>
<div class="t nm w b c" style="left:724px;top:841px;width:62px;height:29px;line-height:29px"><span class="mi"></span><span class="c">3</span><span class="c">2</span><span class="pc">%</span></div>
<div class="t nm w b c" style="left:786px;top:841px;width:63px;height:29px;line-height:29px"><span class="mi"></span><span class="c">2</span><span class="c">0</span><span class="pc">%</span></div>
<div class="t nm w b c" style="left:849px;top:841px;width:120px;height:29px;line-height:29px"><span class="mi"></span><span class="c">2</span><span class="c">5</span><span class="pc">%</span></div>
<div class="foot">数据来源<span class="h">:</span>克而瑞中国房地产决策系统</div>
</body></html>
